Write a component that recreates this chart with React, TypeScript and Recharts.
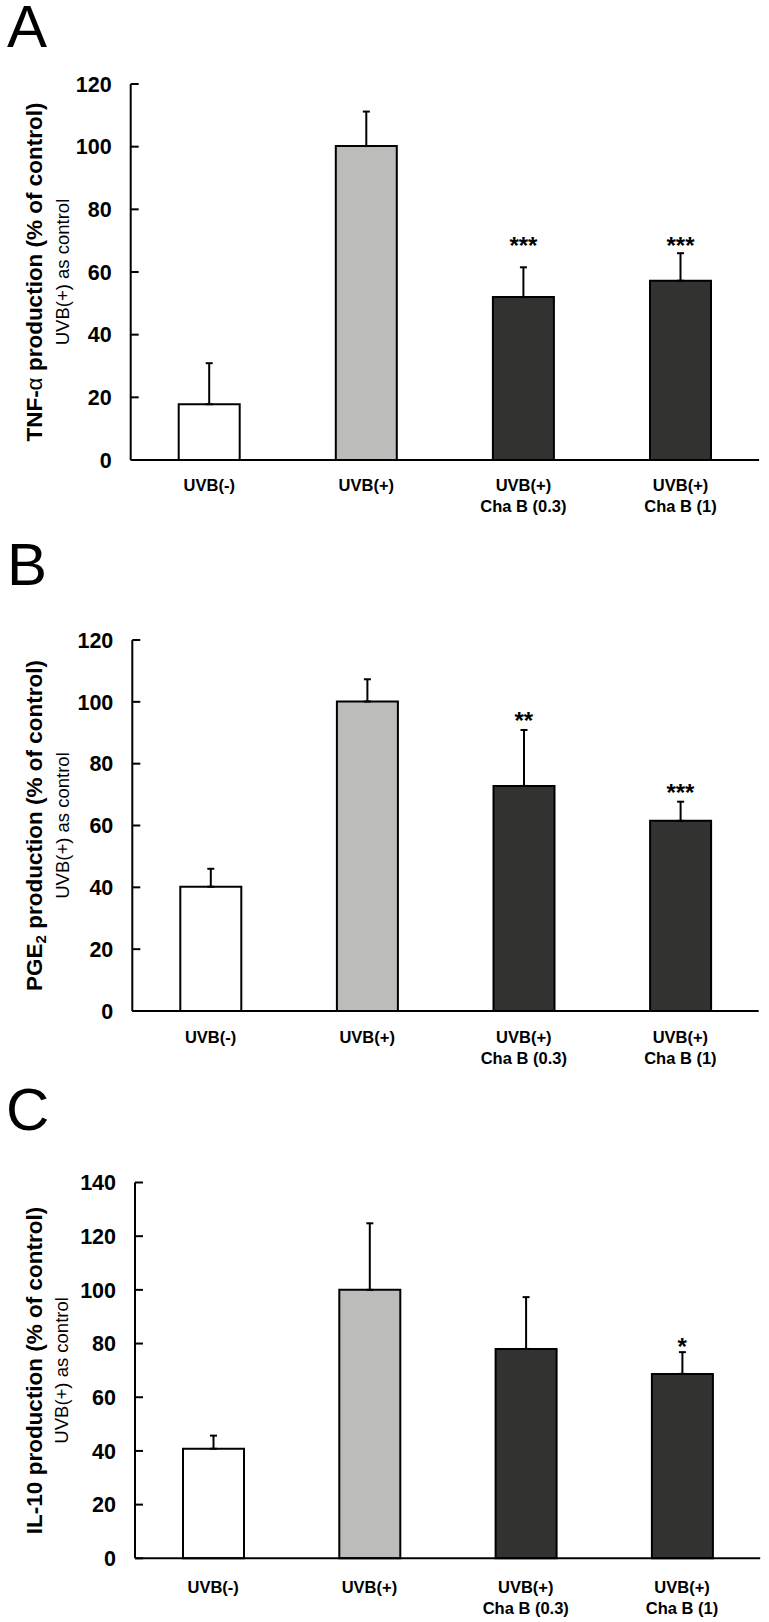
import React from 'react';
import { ComposedChart, Bar, Line, XAxis, YAxis, ErrorBar, Cell, LabelList } from 'recharts';

// ---- data ----
const categories = ['UVB(-)', 'UVB(+)', 'UVB(+)\nCha B (0.3)', 'UVB(+)\nCha B (1)'];
const barColors = ['#ffffff', '#bcbdba', '#323330', '#323330'];

const tnfValues = [17.8, 100.2, 52.0, 57.2];
const tnfErrors = [13.1, 11.0, 9.5, 8.8];
const tnfStars = ['', '', '***', '***'];
const tnfStarPos: (number | null)[] = [null, null, 70.2, 70.2];
const tnfTicks = [0, 20, 40, 60, 80, 100, 120];

const pgeValues = [40.2, 100.1, 72.8, 61.5];
const pgeErrors = [5.8, 7.2, 18.1, 6.2];
const pgeStars = ['', '', '**', '***'];
const pgeStarPos: (number | null)[] = [null, null, 95.7, 72.5];
const pgeTicks = [0, 20, 40, 60, 80, 100, 120];

const il10Values = [40.8, 100.0, 78.0, 68.7];
const il10Errors = [4.9, 24.8, 19.3, 8.1];
const il10Stars = ['', '', '', '*'];
const il10StarPos: (number | null)[] = [null, null, null, 80.7];
const il10Ticks = [0, 20, 40, 60, 80, 100, 120, 140];

const FONT = '"Liberation Sans", Arial, Helvetica, sans-serif';

const buildRows = (values: number[], errors: number[], stars: string[], starPos: (number | null)[]) =>
  categories.map((c, i) => ({
    name: c,
    value: values[i],
    err: [0, errors[i]],
    star: stars[i],
    starPos: starPos[i],
  }));

const YTick = (props: any) => {
  const { x, y, payload } = props;
  return (
    <g>
      <line x1={x + 19} x2={x + 27} y1={y} y2={y} stroke="#000" strokeWidth={2} />
      <text x={x} y={y} dy="0.36em" textAnchor="end" fontSize={21.5} fontWeight="bold" fontFamily={FONT} fill="#000">
        {payload.value}
      </text>
    </g>
  );
};

const makeXTick = (firstOffset: number) => (props: any) => {
  const { x, y, payload } = props;
  const lines = String(payload.value).split('\n');
  return (
    <g>
      {lines.map((l, i) => (
        <text
          key={i}
          x={x}
          y={y + firstOffset + 6 + i * 21}
          textAnchor="middle"
          fontSize={16.5}
          fontWeight="bold"
          fontFamily={FONT}
          fill="#000"
        >
          {l}
        </text>
      ))}
    </g>
  );
};

const StarLabel = (props: any) => {
  const { x, y, value } = props;
  if (!value || y == null || Number.isNaN(y)) return null;
  return (
    <text x={x} y={y} dy="0.57em" textAnchor="middle" fontSize={24} fontWeight="bold" fontFamily={FONT} fill="#000">
      {value}
    </text>
  );
};

type PanelProps = {
  top: number;
  height: number;
  marginTop: number;
  marginBottom: number;
  axisX: number;
  marginRight: number;
  values: number[];
  errors: number[];
  stars: string[];
  starPos: (number | null)[];
  ticks: number[];
  mainLabel: React.ReactNode;
  xLabelOffset: number;
};

const X_AXIS_H = 60;
const Y_AXIS_W = 60;

const Panel = (p: PanelProps) => {
  const rows = buildRows(p.values, p.errors, p.stars, p.starPos);
  const plotH = p.height - p.marginTop - p.marginBottom - X_AXIS_H;
  const cy = p.marginTop + plotH / 2;
  const XTick = makeXTick(p.xLabelOffset);
  const yLabel = () => (
    <g>
      <text
        x={42}
        y={cy}
        transform={`rotate(-90, 42, ${cy})`}
        textAnchor="middle"
        fontSize={22.5}
        fontWeight="bold"
        fontFamily={FONT}
        fill="#000"
      >
        {p.mainLabel}
      </text>
      <text
        x={68.5}
        y={cy}
        transform={`rotate(-90, 68.5, ${cy})`}
        textAnchor="middle"
        fontSize={18.5}
        fontFamily={FONT}
        fill="#000"
      >
        UVB(+) as control
      </text>
    </g>
  );
  return (
    <div style={{ position: 'absolute', left: 0, top: p.top }}>
      <ComposedChart
        width={769}
        height={p.height}
        data={rows}
        margin={{ top: p.marginTop, bottom: p.marginBottom, left: p.axisX - Y_AXIS_W, right: p.marginRight }}
      >
        <XAxis
          dataKey="name"
          height={X_AXIS_H}
          tickLine={false}
          tickSize={0}
          tickMargin={0}
          interval={0}
          axisLine={{ stroke: '#000', strokeWidth: 2 }}
          tick={<XTick />}
        />
        <YAxis
          width={Y_AXIS_W}
          domain={[p.ticks[0], p.ticks[p.ticks.length - 1]]}
          ticks={p.ticks}
          interval={0}
          tickLine={false}
          tickSize={0}
          tickMargin={19}
          axisLine={{ stroke: '#000', strokeWidth: 2 }}
          tick={<YTick />}
          label={{ content: yLabel }}
        />
        <Bar dataKey="value" barSize={61} stroke="#000" strokeWidth={2} isAnimationActive={false}>
          {rows.map((r, i) => (
            <Cell key={r.name} fill={barColors[i]} />
          ))}
          <ErrorBar dataKey="err" direction="y" width={3.5} stroke="#000" strokeWidth={2} />
        </Bar>
        <Line
          dataKey="starPos"
          stroke="none"
          dot={false}
          activeDot={false}
          legendType="none"
          isAnimationActive={false}
        >
          <LabelList dataKey="star" content={<StarLabel />} />
        </Line>
      </ComposedChart>
    </div>
  );
};

export default function App() {
  return (
    <div style={{ position: 'absolute', left: 0, top: 0, width: 769, height: 1622, background: '#fff', fontFamily: FONT }}>
      <Panel
        top={0}
        height={540}
        marginTop={84}
        marginBottom={20}
        axisX={130.7}
        marginRight={9.9}
        values={tnfValues}
        errors={tnfErrors}
        stars={tnfStars}
        starPos={tnfStarPos}
        ticks={tnfTicks}
        xLabelOffset={25}
        mainLabel={
          <>
            TNF-<tspan fontWeight="normal">α</tspan> production (% of control)
          </>
        }
      />
      <Panel
        top={540}
        height={540}
        marginTop={100}
        marginBottom={9}
        axisX={132.3}
        marginRight={10.3}
        values={pgeValues}
        errors={pgeErrors}
        stars={pgeStars}
        starPos={pgeStarPos}
        ticks={pgeTicks}
        xLabelOffset={25.5}
        mainLabel={
          <>
            PGE<tspan fontSize={15} dy={4}>2</tspan>
            <tspan dy={-4}> production (% of control)</tspan>
          </>
        }
      />
      <Panel
        top={1080}
        height={542}
        marginTop={102.5}
        marginBottom={3.7}
        axisX={135}
        marginRight={8.8}
        values={il10Values}
        errors={il10Errors}
        stars={il10Stars}
        starPos={il10StarPos}
        ticks={il10Ticks}
        xLabelOffset={28.5}
        mainLabel={<>IL-10 production (% of control)</>}
      />
      <svg width={769} height={1622} style={{ position: 'absolute', left: 0, top: 0, pointerEvents: 'none' }}>
        <text x={7} y={47} fontSize={60} fontFamily={FONT} fill="#000">A</text>
        <text x={7} y={585} fontSize={60} fontFamily={FONT} fill="#000">B</text>
        <text x={6} y={1130} fontSize={60} fontFamily={FONT} fill="#000">C</text>
      </svg>
    </div>
  );
}
